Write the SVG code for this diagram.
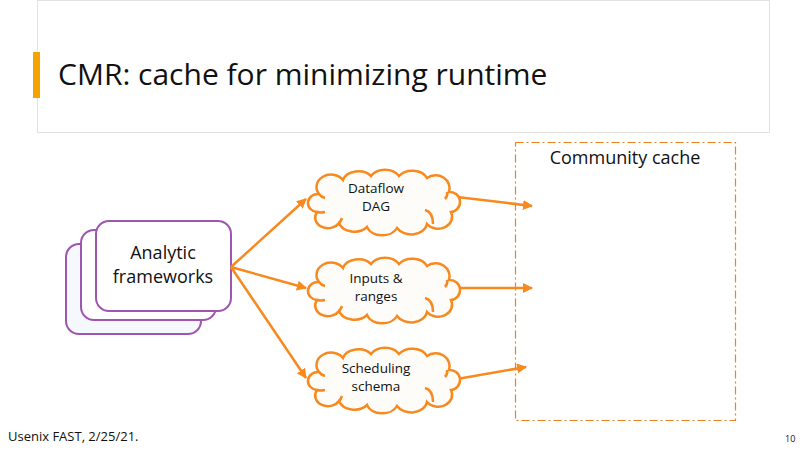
<svg xmlns="http://www.w3.org/2000/svg" width="800" height="450" viewBox="0 0 800 450">
<defs>
<style>
.t{font-family:"Open Sans","Liberation Sans",sans-serif;fill:#111}
.fw{fill:#fff;stroke:#A055B0;stroke-width:2}
.cl{fill:#FEFCF8;stroke:#F7891F;stroke-width:2.5}
.ar{fill:none;stroke:#F7891F;stroke-width:2.5}
</style>
<marker id="ah" viewBox="0 0 10 10" refX="9" refY="5" markerWidth="4" markerHeight="4" orient="auto" markerUnits="strokeWidth">
<path d="M0,0 L10,5 L0,10 Z" fill="#F7891F"/>
</marker>
<g id="cloud">
<path class="cl" d="M12,24 A14,12 0 0 1 36,10 A16,12 0 0 1 64,6 A16,12 0 0 1 92,6 A16,12 0 0 1 120,8 A14,13 0 0 1 142,22 A10,10 0 0 1 144,42 A14,12 0 0 1 120,54 A16,12 0 0 1 90,58 A16,12 0 0 1 60,57 A16,12 0 0 1 32,53 A12,10 0 0 1 10,42 A10,9 0 0 1 12,24 Z"/>
<path class="cl" fill="none" d="M12,24 q2,3 6,4 M140,22 q1,4 -2,7 M118,40 q8,2 8,14 M32,53 q2,-2 3,-5 M10,42 q4,1 8,0"/>
</g>
</defs>
<rect width="800" height="450" fill="#fff"/>
<g id="title">
<rect x="37.5" y="0.5" width="732" height="132" fill="#fff" stroke="#E2E2E2"/>
<rect x="33" y="52" width="7" height="46" fill="#F5A300"/>
<text class="t" x="58" y="85" font-size="30">CMR: cache for minimizing runtime</text>
</g>
<g id="cache">
<rect x="515.5" y="142.5" width="220" height="278" fill="none" stroke="#F08020" stroke-width="1.2" stroke-dasharray="8,3,2,3"/>
<text class="t" x="625" y="164" font-size="18" text-anchor="middle">Community cache</text>
</g>
<g id="frameworks">
<rect class="fw" x="66" y="244" width="135" height="90" rx="13" fill="#F5F8FC" style="fill:#F5F8FC"/>
<rect class="fw" x="81" y="230" width="135" height="90" rx="13"/>
<rect class="fw" x="96" y="221" width="135" height="90" rx="13"/>
<text class="t" x="163" y="259" font-size="18" text-anchor="middle">Analytic</text>
<text class="t" x="163" y="283" font-size="18" text-anchor="middle">frameworks</text>
</g>
<g id="connectors">
<line class="ar" x1="231" y1="267" x2="306" y2="199" marker-end="url(#ah)"/>
<line class="ar" x1="231" y1="267" x2="306" y2="288" marker-end="url(#ah)"/>
<line class="ar" x1="231" y1="267" x2="306" y2="378" marker-end="url(#ah)"/>
<line class="ar" x1="457" y1="197" x2="532" y2="206" marker-end="url(#ah)"/>
<line class="ar" x1="457" y1="288" x2="532" y2="288" marker-end="url(#ah)"/>
<line class="ar" x1="457" y1="379" x2="526" y2="367" marker-end="url(#ah)"/>
</g>
<g id="dataflow">
<use href="#cloud" x="307" y="170"/>
<text class="t" x="376" y="193" font-size="13.5" text-anchor="middle">Dataflow</text>
<text class="t" x="376" y="211" font-size="13.5" text-anchor="middle">DAG</text>
</g>
<g id="inputs">
<use href="#cloud" x="307" y="258"/>
<text class="t" x="376" y="283" font-size="13.5" text-anchor="middle">Inputs &amp;</text>
<text class="t" x="376" y="301" font-size="13.5" text-anchor="middle">ranges</text>
</g>
<g id="scheduling">
<use href="#cloud" x="307" y="348"/>
<text class="t" x="376" y="373" font-size="13.5" text-anchor="middle">Scheduling</text>
<text class="t" x="376" y="391" font-size="13.5" text-anchor="middle">schema</text>
</g>
<g id="footer">
<text class="t" x="8" y="441" font-size="13">Usenix FAST, 2/25/21.</text>
<text class="t" x="785" y="442" font-size="9">10</text>
</g>
</svg>
